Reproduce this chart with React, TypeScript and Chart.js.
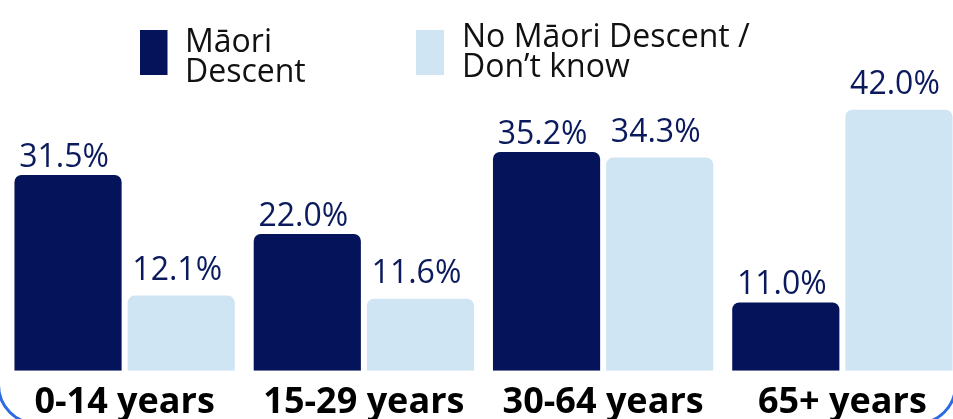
import React, { useEffect, useRef } from "react";
import { Chart, registerables } from "chart.js";

Chart.register(...registerables);

// ---- Data ----
const categories: string[] = ["0-14 years", "15-29 years", "30-64 years", "65+ years"];
const maoriValues: number[] = [31.5, 22.0, 35.2, 11.0];
const nonMaoriValues: number[] = [12.1, 11.6, 34.3, 42.0];
const seriesLabels: string[][] = [
  ["Māori", "Descent"],
  ["No Māori Descent /", "Don’t know"],
];
const seriesColors: string[] = ["#05135a", "#cfe5f3"];
const valueLabelColor = "#0b1a5c";
const yMin = 0;
const yMax = 50;

// ---- Layout constants (page coordinates) ----
const CANVAS_LEFT = 5;
const CANVAS_W = 957;
const CANVAS_H = 434;
const FONT = '"Open Sans", "Noto Sans", sans-serif';

const legendItems = [
  { box: [140, 30, 27.5, 45], textX: 185, baselines: [52, 82] },
  { box: [416, 30, 28, 45], textX: 462, baselines: [47, 77] },
];

const legendPlugin = {
  id: "customLegend",
  afterDraw(chart: Chart) {
    const ctx = chart.ctx;
    ctx.save();
    legendItems.forEach((item, i) => {
      const [bx, by, bw, bh] = item.box;
      ctx.fillStyle = seriesColors[i];
      ctx.fillRect(bx - CANVAS_LEFT, by, bw, bh);
      ctx.fillStyle = "#111111";
      ctx.font = `400 32px ${FONT}`;
      ctx.textAlign = "left";
      ctx.textBaseline = "alphabetic";
      seriesLabels[i].forEach((line, j) => {
        ctx.fillText(line, item.textX - CANVAS_LEFT, item.baselines[j]);
      });
    });
    ctx.restore();
  },
};

const valueOffsets = [8, 16];

const valueLabelPlugin = {
  id: "valueLabels",
  afterDatasetsDraw(chart: Chart) {
    const ctx = chart.ctx;
    ctx.save();
    ctx.fillStyle = valueLabelColor;
    ctx.font = `400 32px ${FONT}`;
    ctx.textAlign = "center";
    ctx.textBaseline = "alphabetic";
    chart.data.datasets.forEach((ds, di) => {
      const meta = chart.getDatasetMeta(di);
      meta.data.forEach((el: any, i: number) => {
        const v = ds.data[i] as number;
        ctx.fillText(v.toFixed(1) + "%", el.x - 4, el.y - valueOffsets[di]);
      });
    });
    ctx.restore();
  },
};

export default function App() {
  const canvasRef = useRef<HTMLCanvasElement | null>(null);

  useEffect(() => {
    if (!canvasRef.current) return;
    const radius = { topLeft: 7, topRight: 7, bottomLeft: 0, bottomRight: 0 };
    const chart = new Chart(canvasRef.current, {
      type: "bar",
      data: {
        labels: categories,
        datasets: [
          {
            label: seriesLabels[0].join(" "),
            data: maoriValues,
            backgroundColor: seriesColors[0],
            borderRadius: radius,
            borderSkipped: false,
            categoryPercentage: 0.946,
            barPercentage: 0.947,
          },
          {
            label: seriesLabels[1].join(" "),
            data: nonMaoriValues,
            backgroundColor: seriesColors[1],
            borderRadius: radius,
            borderSkipped: false,
            categoryPercentage: 0.946,
            barPercentage: 0.947,
          },
        ],
      },
      options: {
        animation: false,
        responsive: false,
        maintainAspectRatio: false,
        devicePixelRatio: 1,
        layout: { padding: { top: 60, left: 0, right: 0, bottom: 0 } },
        plugins: {
          legend: { display: false },
          tooltip: { enabled: false },
          title: { display: false },
        },
        scales: {
          x: {
            grid: { display: false, drawTicks: false },
            border: { display: false },
            ticks: {
              color: "#000000",
              font: { family: FONT, size: 36, weight: "bold" },
              padding: 10,
              maxRotation: 0,
              autoSkip: false,
            },
          },
          y: { display: false, min: yMin, max: yMax },
        },
      },
      plugins: [valueLabelPlugin, legendPlugin],
    });
    return () => chart.destroy();
  }, []);

  return (
    <div
      style={{
        position: "fixed",
        left: 0,
        top: 0,
        width: 953,
        height: 419,
        overflow: "hidden",
        background: "#ffffff",
      }}
    >
      <div
        style={{
          position: "absolute",
          left: -3,
          top: -197,
          width: 960,
          height: 622,
          boxSizing: "border-box",
          border: "3px solid #2d6be4",
          borderRadius: 40,
        }}
      />
      <canvas
        ref={canvasRef}
        width={CANVAS_W}
        height={CANVAS_H}
        style={{ position: "absolute", left: CANVAS_LEFT, top: 0, width: CANVAS_W, height: CANVAS_H }}
      />
    </div>
  );
}
